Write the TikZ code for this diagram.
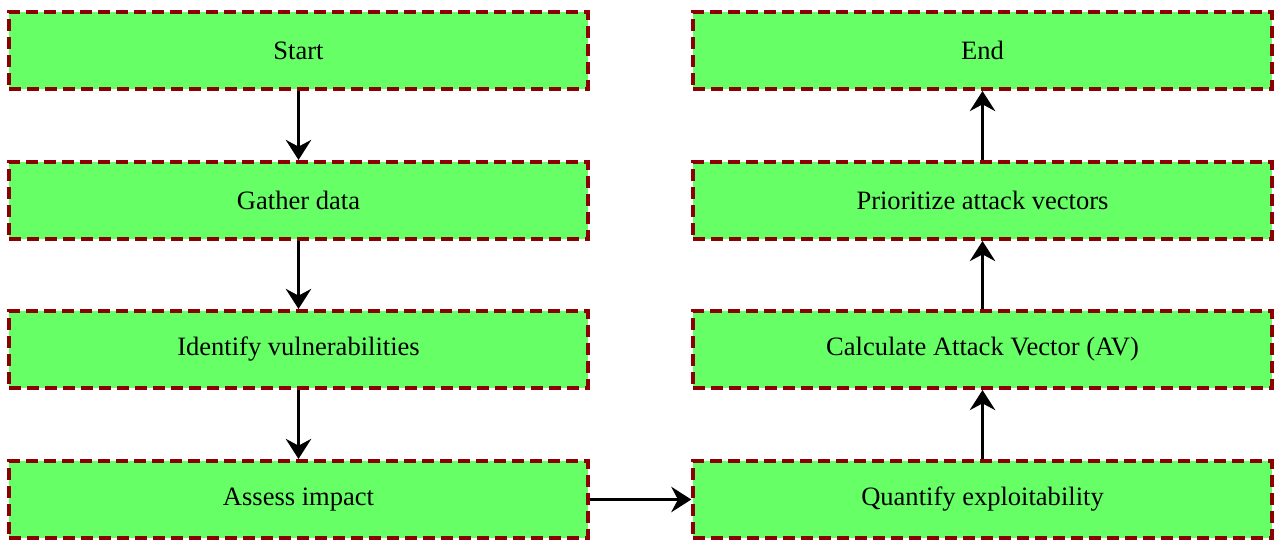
\documentclass[tikz,border=0pt]{standalone}
\usepackage{fontspec}
\setmainfont{Liberation Serif}
\usetikzlibrary{arrows.meta}
\definecolor{boxfill}{HTML}{66FF66}
\definecolor{boxline}{HTML}{8B0000}
\begin{document}
\begin{tikzpicture}[x=0.75pt,y=-0.75pt,
  stepbox/.style={draw=boxline, fill=boxfill, line width=2.8pt,
    dash pattern=on 9pt off 4.5pt, minimum width=434pt, minimum height=58pt,
    inner sep=0pt, font=\fontsize{19.9}{24}\selectfont},
  conn/.style={line width=2.8pt, -{Stealth[length=15pt,width=19pt,inset=5pt]}}]
\useasboundingbox (0,0) rectangle (1277,545);
\node[stepbox] (start) at (298.5,50.5) {Start};
\node[stepbox] (gather) at (298.5,200.5) {Gather data};
\node[stepbox] (ident) at (298.5,349.5) {Identify vulnerabilities};
\node[stepbox] (assess) at (298.5,499.5) {Assess impact};
\node[stepbox] (quant) at (982.5,499.5) {Quantify exploitability};
\node[stepbox] (calc) at (982.5,349.5) {Calculate Attack Vector (AV)};
\node[stepbox] (prio) at (982.5,200.5) {Prioritize attack vectors};
\node[stepbox] (end) at (982.5,50.5) {End};
\draw[conn] (start) -- (gather);
\draw[conn] (gather) -- (ident);
\draw[conn] (ident) -- (assess);
\draw[conn] (assess) -- (quant);
\draw[conn] (quant) -- (calc);
\draw[conn] (calc) -- (prio);
\draw[conn] (prio) -- (end);
\end{tikzpicture}
\end{document}
